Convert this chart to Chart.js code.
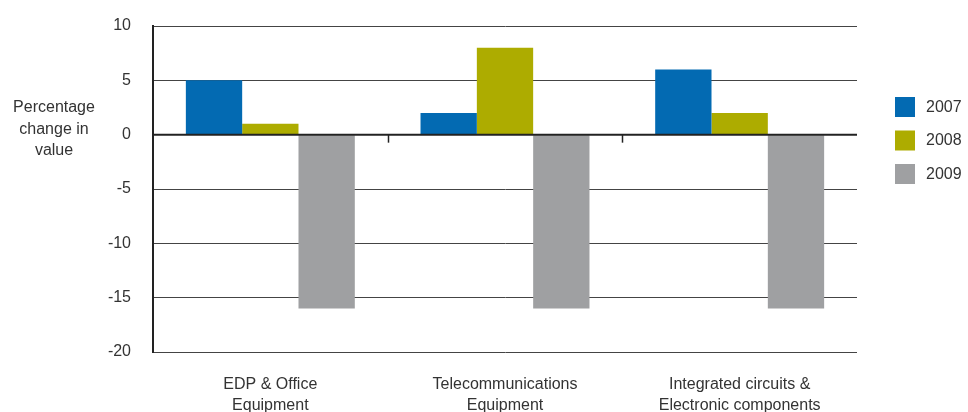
<!DOCTYPE html>
<html>
<head>
<meta charset="utf-8">
<script src="https://cdn.jsdelivr.net/npm/chart.js@4"></script>
<style>
  html, body { margin: 0; padding: 0; background: #fff; }
  #wrap { width: 968px; height: 412px; position: relative; }
</style>
</head>
<body>
<div id="wrap"><canvas id="c" width="968" height="412"></canvas></div>
<script>
const categories = [
  ['EDP & Office', 'Equipment'],
  ['Telecommunications', 'Equipment'],
  ['Integrated circuits &', 'Electronic components']
];
const seriesNames = ['2007', '2008', '2009'];
const values2007 = [5, 2, 6];
const values2008 = [1, 8, 2];
const values2009 = [-16, -16, -16];
const yTitleLines = ['Percentage', 'change in', 'value'];
const yMin = -20, yMax = 10, yStep = 5;

const colors = ['#036AB2', '#ADAC00', '#9FA0A2'];
const FONT = '"Liberation Sans", Arial, Helvetica, sans-serif';
const TEXT = '#333333';

const extras = {
  id: 'extras',
  afterDatasetsDraw(chart) {
    const ctx = chart.ctx;
    const x = chart.scales.x, y = chart.scales.y;
    const ca = chart.chartArea;
    const zeroY = y.getPixelForValue(0);
    ctx.save();
    ctx.strokeStyle = '#222';
    ctx.lineWidth = 2;
    ctx.beginPath();
    ctx.moveTo(ca.left, zeroY);
    ctx.lineTo(ca.right, zeroY);
    ctx.stroke();
    ctx.lineWidth = 1.5;
    for (let i = 1; i < categories.length; i++) {
      const bx = Math.round((x.getPixelForValue(i - 1) + x.getPixelForValue(i)) / 2) + 0.5;
      ctx.beginPath();
      ctx.moveTo(bx, zeroY);
      ctx.lineTo(bx, zeroY + 8);
      ctx.stroke();
    }
    ctx.restore();
  },
  afterDraw(chart) {
    const ctx = chart.ctx;
    const ca = chart.chartArea;
    ctx.save();
    ctx.fillStyle = TEXT;
    ctx.font = '16px ' + FONT;
    ctx.textAlign = 'center';
    ctx.textBaseline = 'middle';
    const tcx = 54;
    const tcy0 = 108;
    yTitleLines.forEach((t, i) => ctx.fillText(t, tcx, tcy0 + i * 21.5));
    const bx = ca.right + 38;
    const by0 = 97;
    const step = 33.5;
    chart.data.datasets.forEach((ds, i) => {
      const top = by0 + i * step;
      ctx.fillStyle = ds.backgroundColor;
      ctx.fillRect(bx, top, 20, 20);
      ctx.fillStyle = TEXT;
      ctx.textAlign = 'left';
      ctx.fillText(ds.label, bx + 31, top + 10.5);
    });
    ctx.restore();
  }
};

new Chart(document.getElementById('c'), {
  type: 'bar',
  data: {
    labels: categories,
    datasets: [
      { label: seriesNames[0], data: values2007, backgroundColor: colors[0] },
      { label: seriesNames[1], data: values2008, backgroundColor: colors[1] },
      { label: seriesNames[2], data: values2009, backgroundColor: colors[2] }
    ]
  },
  options: {
    responsive: false,
    animation: false,
    devicePixelRatio: 1,
    categoryPercentage: 0.72,
    barPercentage: 1.0,
    layout: { padding: { top: 26, right: 111, bottom: 0, left: 0 } },
    plugins: {
      legend: { display: false },
      tooltip: { enabled: false },
      title: { display: false }
    },
    datasets: { bar: { borderWidth: 0 } },
    scales: {
      x: {
        grid: { display: false },
        border: { display: false },
        ticks: {
          color: TEXT,
          font: { family: FONT, size: 16, lineHeight: 1.3 },
          padding: 14,
          maxRotation: 0,
          autoSkip: false
        },
        afterFit(scale) { scale.height = 60; scale.paddingLeft = 0; scale.paddingRight = 0; }
      },
      y: {
        min: yMin,
        max: yMax,
        border: { display: true, color: '#222', width: 2 },
        grid: {
          drawTicks: false,
          color: '#444',
          lineWidth: 1
        },
        ticks: {
          stepSize: yStep,
          color: TEXT,
          font: { family: FONT, size: 16 },
          padding: 22
        },
        afterFit(scale) { scale.width = 153; scale.paddingTop = 0; scale.paddingBottom = 0; }
      }
    }
  },
  plugins: [extras]
});
</script>
</body>
</html>
